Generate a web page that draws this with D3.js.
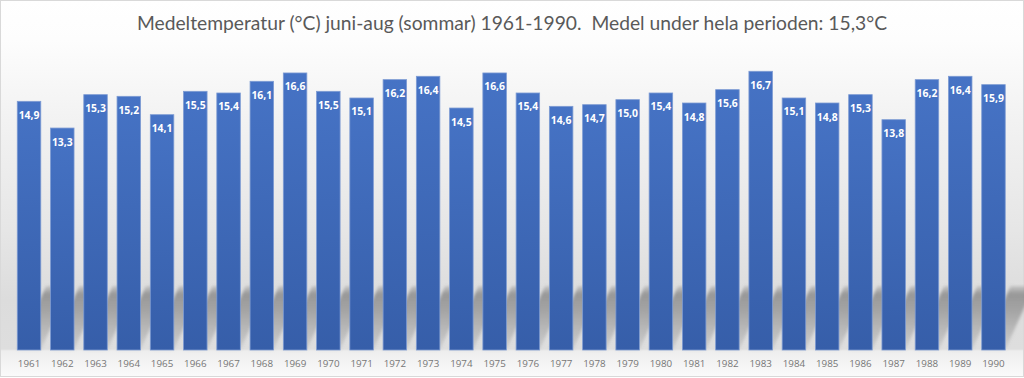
<!DOCTYPE html>
<html><head><meta charset="utf-8">
<script src="https://cdn.jsdelivr.net/npm/d3@7"></script>
<style>html,body{margin:0;padding:0;background:#fff;}svg{display:block;}</style>
</head><body>
<script>
const years = ["1961","1962","1963","1964","1965","1966","1967","1968","1969","1970","1971","1972","1973","1974","1975","1976","1977","1978","1979","1980","1981","1982","1983","1984","1985","1986","1987","1988","1989","1990"];
const temps = [14.9,13.3,15.3,15.2,14.1,15.5,15.4,16.1,16.6,15.5,15.1,16.2,16.4,14.5,16.6,15.4,14.6,14.7,15.0,15.4,14.8,15.6,16.7,15.1,14.8,15.3,13.8,16.2,16.4,15.9];
const titleText = "Medeltemperatur (°C) juni-aug (sommar) 1961-1990.  Medel under hela perioden: 15,3°C";
const yDomain = [0, 18];

const W = 1024, H = 378;
const svg = d3.select("body").append("svg").attr("width", W).attr("height", H);
const defs = svg.append("defs");

const bg = defs.append("linearGradient").attr("id","bg")
  .attr("gradientUnits","userSpaceOnUse").attr("x1",0).attr("x2",0).attr("y1",0).attr("y2",H);
[[0,"#ffffff"],[40,"#fdfdfd"],[120,"#f2f2f2"],[230,"#e6e6e6"],[300,"#dcdcdc"],[349,"#dedede"],[351,"#eeeeee"],[378,"#fbfbfb"]]
  .forEach(([y,c]) => bg.append("stop").attr("offset", y/H).attr("stop-color", c));

const barG = defs.append("linearGradient").attr("id","barg").attr("x1",0).attr("x2",0).attr("y1",0).attr("y2",1);
barG.append("stop").attr("offset",0).attr("stop-color","#4673C5");
barG.append("stop").attr("offset",1).attr("stop-color","#365EA9");

const shG = defs.append("linearGradient").attr("id","shg").attr("gradientUnits","userSpaceOnUse")
  .attr("x1",0).attr("x2",0).attr("y1",282).attr("y2",350);
[[0,0],[0.18,0.7],[0.45,0.55],[1,0.15]].forEach(([o,a]) =>
  shG.append("stop").attr("offset",o).attr("stop-color","#7a7a7a").attr("stop-opacity",a));
const blur = defs.append("filter").attr("id","blur").attr("x","-20%").attr("y","-20%").attr("width","140%").attr("height","140%");
blur.append("feGaussianBlur").attr("stdDeviation",1.6);

svg.append("rect").attr("x",0.5).attr("y",0.5).attr("width",W-1).attr("height",H-2)
  .attr("fill","url(#bg)").attr("stroke","#d9d9d9").attr("stroke-width",1);

const x = d3.scaleBand().domain(years).range([12.4, 1010.1]).paddingInner(0.293).paddingOuter(0.1465);
const y = d3.scaleLinear().domain(yDomain).range([350, 49.6]);

// perspective shadows
const shH = 64, shK = 0.45;
svg.append("g").attr("filter","url(#blur)").selectAll("path").data(years).join("path")
  .attr("d", d => {
    const x0 = x(d), x1 = x(d) + x.bandwidth(), yb = y(0), yt = y(0) - shH;
    return `M${x0},${yb}L${x1},${yb}L${x1+shK*shH},${yt}L${x0+shK*shH},${yt}Z`;
  })
  .attr("fill","url(#shg)");

// bars
svg.append("g").selectAll("rect").data(temps).join("rect")
  .attr("x", (d,i) => x(years[i]))
  .attr("y", d => y(d))
  .attr("width", x.bandwidth())
  .attr("height", d => y(0) - y(d))
  .attr("fill","url(#barg)")
  .attr("stroke","#7d9bd3").attr("stroke-width",0.8);

// value labels
const fmt = v => d3.format(".1f")(v).replace(".", ",");
svg.append("g").selectAll("text").data(temps).join("text")
  .attr("x", (d,i) => x(years[i]) + x.bandwidth()/2)
  .attr("y", d => y(d) + 17.5)
  .attr("text-anchor","middle")
  .attr("font-family","'Open Sans', sans-serif").attr("font-weight","bold").attr("font-size","10.4px")
  .attr("fill","#ffffff")
  .text(fmt);

// x axis
const xAxis = svg.append("g").attr("transform", `translate(0,${y(0)})`).call(d3.axisBottom(x).tickSize(0).tickPadding(10));
xAxis.select(".domain").remove();
xAxis.selectAll("text").attr("font-family","'Open Sans', sans-serif").attr("font-size","9.8px").attr("fill","#767676");

// title
const title = svg.append("text").attr("x", 512).attr("y", 30).attr("text-anchor","middle")
  .attr("font-family","Lato, sans-serif").attr("font-size","18px").attr("fill","#595959")
  .attr("xml:space","preserve").style("white-space","pre")
  .text(titleText);
const tw = title.node().getComputedTextLength();
title.attr("font-size", (18 * 750 / tw).toFixed(2) + "px");
</script>
</body></html>
